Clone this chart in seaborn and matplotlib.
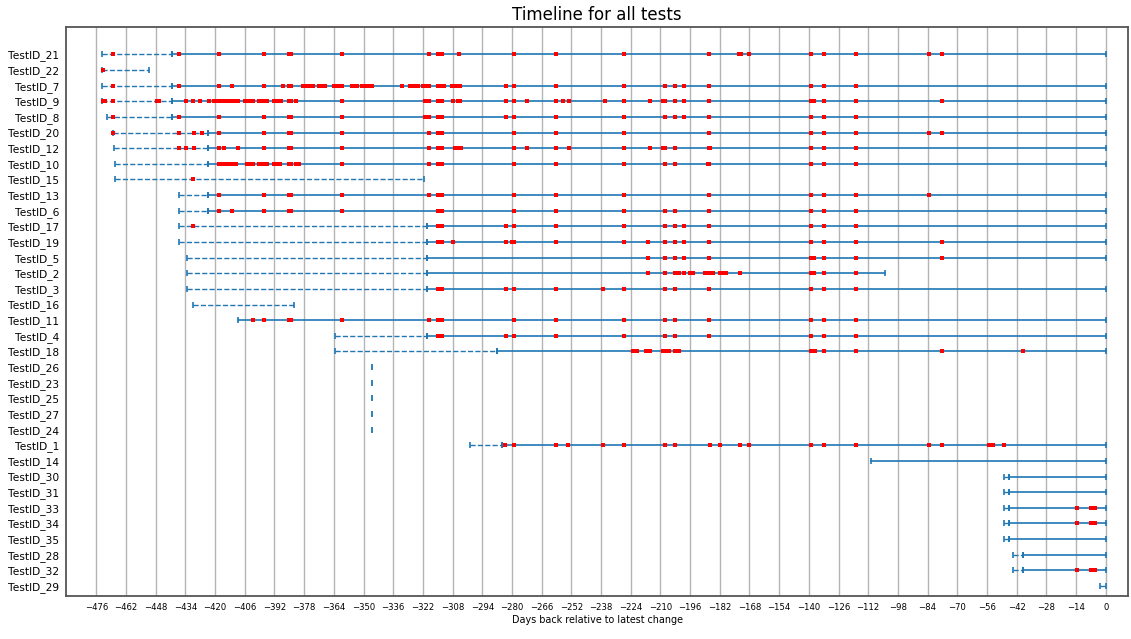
import matplotlib
matplotlib.use("Agg")
import matplotlib.pyplot as plt
import seaborn as sns
import pandas as pd
import numpy as np

# ---------------- data ----------------
tests = ["TestID_21", "TestID_22", "TestID_7", "TestID_9", "TestID_8", "TestID_20",
         "TestID_12", "TestID_10", "TestID_15", "TestID_13", "TestID_6", "TestID_17",
         "TestID_19", "TestID_5", "TestID_2", "TestID_3", "TestID_16", "TestID_11",
         "TestID_4", "TestID_18", "TestID_26", "TestID_23", "TestID_25", "TestID_27",
         "TestID_24", "TestID_1", "TestID_14", "TestID_30", "TestID_31", "TestID_33",
         "TestID_34", "TestID_35", "TestID_28", "TestID_32", "TestID_29"]

# first day of the dashed (pre) segment, None = no dashed part
dashed_start = [-473.4, -473.4, -473.4, -473.4, -471.0, -468.0,
                -467.5, -467.0, -467.0, -437.0, -437.0, -437.0,
                -437.0, -433.4, -433.4, -433.4, -430.2, None,
                -363.4, -363.4, -346.0, -346.0, -346.0, -346.0,
                -346.0, -300.0, None, -48.0, -48.0, -48.0,
                -48.0, -48.0, -43.6, -43.6, -2.7]
# first day of the solid segment, None = only dashed
solid_start = [-440.4, None, -440.4, -440.4, -440.4, -423.4,
               -423.4, -423.4, None, -423.4, -423.4, -320.2,
               -320.2, -320.2, -320.2, -320.2, None, -409.3,
               -320.2, -287.0, None, None, None, None,
               None, -284.7, -110.7, -45.7, -45.7, -45.7,
               -45.7, -45.7, -39.2, -39.2, None]
# last day of the timeline
end_day = [0, -451.1, 0, 0, 0, 0,
           0, 0, -321.3, 0, 0, 0,
           0, 0, -104.0, 0, -383.0, 0,
           0, 0, -346.0, -346.0, -346.0, -346.0,
           -346.0, 0, 0, 0, 0, 0,
           0, 0, 0, 0, 0]

fails_21 = [-468, -437, -418, -397, -385, -384, -360, -319, -315, -313, -305, -279, -259,
            -227, -187, -173, -172, -168, -139, -133, -118, -83.5, -77]
fails_22 = [-473]
fails_7 = [-468, -437, -418, -412, -397, -388, -385, -384, -378.5, -377, -375.5, -374,
           -371, -369.5, -368, -364, -363, -362, -361, -360, -355.5, -354, -353,
           -350.5, -349, -347.5, -346, -332, -328, -327, -325.5, -324.5, -322, -320.5,
           -319, -315, -313.5, -312, -308.5, -307, -305.5, -304.5, -283, -279, -259,
           -227, -208, -203, -199, -187, -139, -133, -118]
fails_9 = [-473, -472, -468, -447.5, -446.5, -433.5, -430.5, -427, -423, -420.5, -419,
           -418, -417, -416, -415, -413, -411.5, -410, -409, -406, -405, -404, -403,
           -402, -399.5, -398.5, -397.5, -396.5, -395.5, -392, -391, -390, -389, -385,
           -384, -382, -360, -321, -319, -315, -313, -308, -305.5, -304.5, -283, -279,
           -273, -259, -256, -253, -236, -227, -215, -209, -208, -203, -199, -187,
           -139, -137.5, -133, -118, -77]
fails_8 = [-468, -437, -418, -397, -385, -384, -360, -321, -319, -315, -313, -283, -279,
           -259, -227, -208, -203, -199, -187, -139, -133, -118]
fails_20 = [-468, -437, -430, -426, -418, -397, -385, -384, -360, -319, -315, -313, -279,
            -259, -227, -187, -139, -133, -118, -83.5, -77]
fails_12 = [-437, -433.5, -430, -418, -416, -409, -397, -385, -384, -360, -319, -315,
            -313, -307, -305.5, -304, -279, -273, -259, -253, -227, -215, -209, -208,
            -203, -187, -186.5, -139, -133, -118]
fails_10 = [-418, -417, -415.5, -414, -413, -411.5, -410, -405, -404, -403, -402, -399.5,
            -398, -397, -395.5, -392, -391, -389.5, -385, -384, -382, -380.5, -360,
            -319, -315, -313, -279, -259, -227, -208, -203, -187.5, -187, -139, -133, -118]
fails_15 = [-430.4]
fails_13 = [-418, -397, -385, -384, -360, -319, -315, -313, -279, -259, -227, -187,
            -139, -133, -118, -83.5]
fails_6 = [-418, -412, -397, -385, -384, -360, -315, -313, -279, -259, -227, -208, -203,
           -187, -139, -133, -118]
fails_17 = [-430.4, -315, -313, -283, -279, -259, -227, -208, -203, -199, -187, -139,
            -133, -118]
fails_19 = [-315, -313, -308, -283, -280, -279, -259, -227, -216, -208, -203, -199, -187,
            -139, -133, -118, -77]
fails_5 = [-216, -208, -203, -199, -187, -139, -137.5, -133, -118, -77]
fails_2 = [-216, -208, -203, -201, -199, -196, -194.5, -189, -187.5, -186, -185, -182,
           -180.5, -179, -172.3, -139, -137.5, -133, -118]
fails_3 = [-315, -313, -283, -279, -259, -237, -227, -208, -203, -187, -139, -133, -118]
fails_16 = []
fails_11 = [-402, -397, -385, -384, -360, -319, -315, -313, -279, -259, -227, -208, -203,
            -187, -139, -133, -118]
fails_4 = [-315, -313, -283, -279, -259, -227, -208, -203, -187, -139, -133, -118]
fails_18 = [-223, -221, -217, -216, -215, -209, -208, -207, -206, -203, -202, -201,
            -139, -137, -133, -118, -77, -39]
fails_26 = []
fails_23 = []
fails_25 = []
fails_27 = []
fails_24 = []
fails_1 = [-283.3, -279, -259, -253.4, -237, -227, -208, -203, -186.7, -182, -172.7,
           -168, -139, -133, -118, -83.5, -77.2, -55, -53, -48]
fails_14 = []
fails_30 = []
fails_31 = []
fails_33 = [-13.7, -7, -5]
fails_34 = [-13.7, -7, -5]
fails_35 = []
fails_28 = []
fails_32 = [-13.7, -7, -5]
fails_29 = []

failures = [fails_21, fails_22, fails_7, fails_9, fails_8, fails_20, fails_12, fails_10,
            fails_15, fails_13, fails_6, fails_17, fails_19, fails_5, fails_2, fails_3,
            fails_16, fails_11, fails_4, fails_18, fails_26, fails_23, fails_25, fails_27,
            fails_24, fails_1, fails_14, fails_30, fails_31, fails_33, fails_34, fails_35,
            fails_28, fails_32, fails_29]

x_ticks = list(range(-476, 1, 14))

# ---------------- plot ----------------
sns.set_style("white")
plt.rcParams["font.family"] = ["DejaVu Sans"]
plt.rcParams["text.color"] = "black"
plt.rcParams["axes.labelcolor"] = "black"
plt.rcParams["xtick.color"] = "black"
plt.rcParams["ytick.color"] = "black"

fig = plt.figure(figsize=(11.31, 6.39), dpi=100)
ax = fig.add_axes([66 / 1131, 1 - 596 / 639, (1128 - 66) / 1131, (596 - 27) / 639])

blue = "#1f77b4"
for i, name in enumerate(tests):
    ds, ss, ed = dashed_start[i], solid_start[i], end_day[i]
    if ds is not None:
        dash_end = ss if ss is not None else ed
        if dash_end == ds:
            ax.plot([ds], [i], marker="|", ms=4, mew=1.3, color=blue, lw=0)
        else:
            ax.plot([ds, dash_end], [i, i], ls="--", lw=1.0, color=blue,
                    marker="|", ms=4.5, mew=1.2)
    if ss is not None:
        ax.plot([ss, ed], [i, i], ls="-", lw=1.2, color=blue,
                marker="|", ms=4.5, mew=1.2)

rows = []
for i, f in enumerate(failures):
    for d in f:
        rows.append({"test": tests[i], "row": i, "day": d})
df = pd.DataFrame(rows)
sns.scatterplot(data=df, x="day", y="row", color="red", marker="s", s=6,
                linewidth=0, ax=ax, zorder=3, legend=False)

ax.set_xticks(x_ticks)
ax.set_xticklabels([str(t).replace("-", "\u2212") for t in x_ticks], fontsize=6.1)
ax.set_yticks(range(len(tests)))
ax.set_yticklabels(tests, fontsize=7.7)
ax.set_xlim(-490.3, 10.5)
ax.set_ylim(34.64, -1.75)
ax.grid(axis="x", color="#b4b4b4", lw=1.0)
ax.grid(axis="y", visible=False)
ax.set_axisbelow(True)
ax.tick_params(axis="both", length=3, width=0.8, color="#444", pad=2)
for sp in ax.spines.values():
    sp.set_color("#555555")
    sp.set_linewidth(1.3)
ax.set_xlabel("Days back relative to latest change", fontsize=6.9, labelpad=2)
ax.set_ylabel("")
ax.set_title("Timeline for all tests", fontsize=12, pad=5)

fig.savefig("out.png", dpi=100)
